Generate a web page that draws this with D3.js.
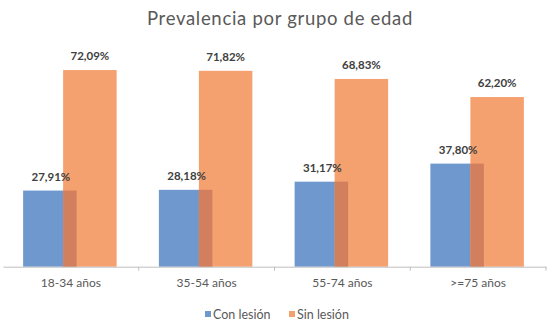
<!DOCTYPE html>
<html><head><meta charset="utf-8">
<script src="https://cdn.jsdelivr.net/npm/d3@7"></script>
<style>body{margin:0;background:#fff}svg{display:block}text{font-family:Lato,"Open Sans",sans-serif}</style>
</head><body>
<script>
const categories = ["18-34 años","35-54 años","55-74 años",">=75 años"];
const conLesion = [27.91, 28.18, 31.17, 37.80];
const sinLesion = [72.09, 71.82, 68.83, 62.20];
const seriesNames = ["Con lesión","Sin lesión"];
const labelFmt = v => v.toFixed(2).replace(".", ",") + "%";

const W = 559, H = 335;
const colors = ["#6f98cf", "#f5a06f"];
const overlapColor = "#d27f5e";
const svg = d3.select("body").append("svg").attr("width", W).attr("height", H);

const x = d3.scaleBand().domain(categories).range([3, 546]).paddingInner(0).paddingOuter(0);
const y = d3.scaleLinear().domain([0, 80]).range([266.7, 48.5]);

svg.append("text").attr("x", 280).attr("y", 25).attr("text-anchor", "middle")
  .attr("font-size", 18.5).attr("fill", "#595959").attr("letter-spacing", 0.7)
  .text("Prevalencia por grupo de edad");

const bw = 53.5, shift = 40;
const groupW = bw + shift;
const g = svg.append("g");
categories.forEach((c, i) => {
  const cx = x(c) + x.bandwidth() / 2 - 1;
  const bx = cx - groupW / 2, ox = bx + shift;
  g.append("rect").attr("x", bx).attr("y", y(conLesion[i])).attr("width", bw)
    .attr("height", y(0) - y(conLesion[i])).attr("fill", colors[0]);
  g.append("rect").attr("x", ox).attr("y", y(sinLesion[i])).attr("width", bw)
    .attr("height", y(0) - y(sinLesion[i])).attr("fill", colors[1]);
  g.append("rect").attr("x", ox).attr("y", y(conLesion[i])).attr("width", bx + bw - ox)
    .attr("height", y(0) - y(conLesion[i])).attr("fill", overlapColor);
  g.append("text").attr("x", bx + bw / 2 + 1).attr("y", y(conLesion[i]) - 10)
    .attr("text-anchor", "middle").attr("font-size", 11.5).attr("font-weight", "bold")
    .attr("fill", "#404040").text(labelFmt(conLesion[i]));
  g.append("text").attr("x", ox + bw / 2).attr("y", y(sinLesion[i]) - 10)
    .attr("text-anchor", "middle").attr("font-size", 11.5).attr("font-weight", "bold")
    .attr("fill", "#404040").text(labelFmt(sinLesion[i]));
});

const axis = d3.axisBottom(x).tickSize(0).tickPadding(12);
const ax = svg.append("g").attr("transform", `translate(0,${y(0)})`).call(axis);
ax.select(".domain").attr("stroke", "#bfbfbf").attr("stroke-width", 1);
ax.selectAll("text").attr("font-size", 12).attr("fill", "#595959").attr("font-family", "Lato,sans-serif");
categories.forEach(c => {
  const tx = x(c) + x.bandwidth();
  ax.append("line").attr("x1", tx).attr("x2", tx).attr("y1", 0).attr("y2", 4).attr("stroke", "#bfbfbf");
});

const leg = svg.append("g");
const legX = [205, 289];
seriesNames.forEach((n, i) => {
  leg.append("rect").attr("x", legX[i]).attr("y", 311).attr("width", 6).attr("height", 6).attr("fill", colors[i]);
  leg.append("text").attr("x", legX[i] + 8).attr("y", 319).attr("font-size", 12.5).attr("fill", "#595959").text(n);
});
</script>
</body></html>
